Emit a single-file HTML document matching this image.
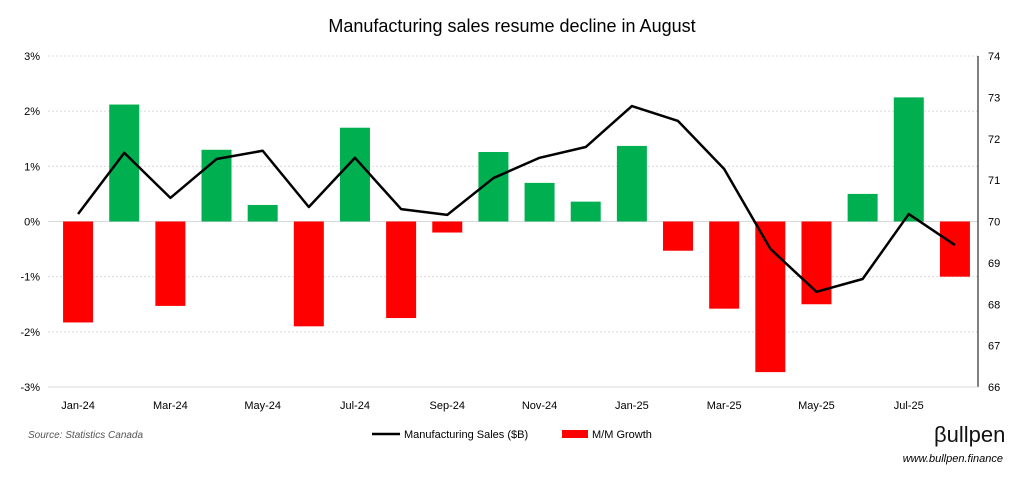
<!DOCTYPE html>
<html><head><meta charset="utf-8"><style>
body{margin:0;background:#fff;font-family:"Liberation Sans",sans-serif;}
svg text{font-family:"Liberation Sans",sans-serif;}
</style></head><body>
<svg id="chart" width="1033" height="481" xmlns="http://www.w3.org/2000/svg">
<rect width="1033" height="481" fill="#fff"/>
<text x="512" y="32" text-anchor="middle" font-size="18" fill="#000">Manufacturing sales resume decline in August</text>
<g id="grid"></g><g id="bars"></g><g id="line"></g><g id="axes"></g>
<text x="28" y="438" font-size="10" font-style="italic" fill="#555">Source: Statistics Canada</text>
<g>
<line x1="372" y1="434" x2="400" y2="434" stroke="#000" stroke-width="2.5"/>
<text x="404" y="438" font-size="11">Manufacturing Sales ($B)</text>
<rect x="562" y="430" width="26" height="8" fill="#ff0000"/>
<text x="592" y="438" font-size="11">M/M Growth</text>
</g>
<text x="934" y="442" font-size="22" fill="#111">βullpen</text>
<text x="1003" y="462" text-anchor="end" font-size="11" font-style="italic" fill="#000">www.bullpen.finance</text>
</svg>
<script>
const categories=["Jan-24","Feb-24","Mar-24","Apr-24","May-24","Jun-24","Jul-24","Aug-24","Sep-24","Oct-24","Nov-24","Dec-24","Jan-25","Feb-25","Mar-25","Apr-25","May-25","Jun-25","Jul-25","Aug-25"];
const growth=[-1.83,2.12,-1.53,1.30,0.30,-1.90,1.70,-1.75,-0.20,1.26,0.70,0.36,1.37,-0.53,-1.58,-2.73,-1.50,0.50,2.25,-1.00];
const sales=[70.18,71.66,70.57,71.51,71.71,70.35,71.54,70.30,70.16,71.05,71.54,71.80,72.79,72.43,71.27,69.34,68.30,68.61,70.18,69.43];
const leftTicks=["-3%","-2%","-1%","0%","1%","2%","3%"];
const leftVals=[-3,-2,-1,0,1,2,3];
const rightVals=[66,67,68,69,70,71,72,73,74];
const NS="http://www.w3.org/2000/svg";
const X0=55,X1=978,YT=56,YB=387;
const step=(X1-X0)/categories.length;
const xc=i=>X0+step*(i+0.5);
const yL=v=>YT+(3-v)/6*(YB-YT);
const yR=v=>YT+(74-v)/8*(YB-YT);
function mk(tag,attrs,parent,txt){const e=document.createElementNS(NS,tag);for(const k in attrs)e.setAttribute(k,attrs[k]);if(txt!==undefined)e.textContent=txt;document.getElementById(parent).appendChild(e);return e;}
leftVals.forEach((v,i)=>{
 const g=mk("line",{x1:48,x2:X1,y1:yL(v),y2:yL(v),stroke:"#d9d9d9","stroke-width":1,"stroke-dasharray":v===0?"":"2,2"},"grid");
 
 
 const t=mk("text",{x:40,y:yL(v)+4,"text-anchor":"end","font-size":11},"axes",leftTicks[i]);
 
 
});
rightVals.forEach(v=>{
 const t=mk("text",{x:988,y:yR(v)+4,"font-size":11},"axes",String(v));
 
 
});
const ax=mk("line",{x1:X1,x2:X1,y1:YT,y2:YB,stroke:"#000","stroke-width":1},"axes");


const ab=mk("line",{x1:48,x2:X1,y1:YB,y2:YB,stroke:"#d9d9d9","stroke-width":1},"axes");


growth.forEach((v,i)=>{
 const y0=yL(0),y1=yL(v);
 const r=mk("rect",{x:xc(i)-15,width:30,y:Math.min(y0,y1),height:Math.abs(y1-y0),fill:v>=0?"#00b050":"#ff0000"},"bars");
 
 
});
categories.forEach((c,i)=>{
 if(i%2)return;
 const t=mk("text",{x:xc(i),y:409,"text-anchor":"middle","font-size":11},"axes",c);
 
 
});
const pts=sales.map((v,i)=>xc(i)+","+yR(v)).join(" ");
const pl=mk("polyline",{points:pts,fill:"none",stroke:"#000","stroke-width":2.5,"stroke-linejoin":"round"},"line");


</script>
</body></html>
